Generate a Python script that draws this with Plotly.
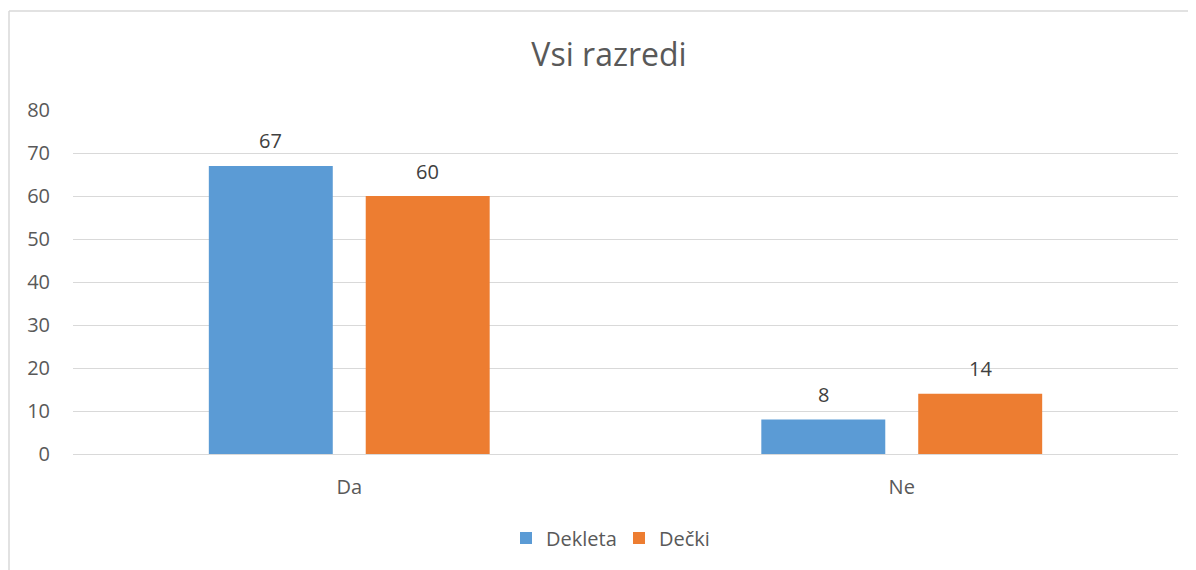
import plotly.graph_objects as go

categories = ["Da", "Ne"]
series_names = ["Dekleta", "Dečki"]
dekleta = [67, 8]
decki = [60, 14]
colors = ["#5B9BD5", "#ED7D31"]
title_text = "Vsi razredi"

# page body has an 8px margin; compensate so the chart lands where the reference has it
OFF = 8
W, H = 1196 - OFF, 570 - OFF
L, R, T, B = 73 - OFF, 18, 110 - OFF, 116
pw, ph = W - L - R, H - T - B

FONT = "Open Sans"
TXT = "#595959"

bargap = 0.432
bargroupgap = 0.21

fig = go.Figure()
for name, vals, col in zip(series_names, [dekleta, decki], colors):
    fig.add_trace(go.Bar(
        x=categories, y=vals, name=name, marker_color=col,
        marker_line_width=0,
    ))

# data labels as annotations above bars
cat_w = pw / len(categories)
slot = cat_w * (1 - bargap) / 2
for i, vals in enumerate([dekleta, decki]):
    off = (i - 0.5) * slot
    for c, v in zip(categories, vals):
        fig.add_annotation(x=c, y=v, text=str(v), showarrow=False,
                           xshift=off, yshift=25,
                           font=dict(family=FONT, size=20, color="#404040"))

# chart border (top and left visible)
bx = (9 - OFF - L) / pw
by = 1 + (T - (11 - OFF)) / ph
line = dict(color="#d9d9d9", width=1.5)
fig.add_shape(type="line", xref="paper", yref="paper", x0=bx, x1=1.2, y0=by, y1=by, line=line)
fig.add_shape(type="line", xref="paper", yref="paper", x0=bx, x1=bx, y0=-1, y1=by, line=line)

fig.update_layout(
    width=W, height=H,
    margin=dict(l=L, r=R, t=T, b=B, pad=0),
    paper_bgcolor="white", plot_bgcolor="white",
    barmode="group", bargap=bargap, bargroupgap=bargroupgap,
    title=dict(text=title_text, x=(609 - OFF - L) / pw, xref="paper", xanchor="center",
               y=1 - (55 - OFF) / H, yanchor="middle",
               font=dict(family=FONT, size=32, color=TXT)),
    font=dict(family=FONT, size=20, color=TXT),
    showlegend=True,
    legend=dict(orientation="h", x=(520 - 14 - OFF - L) / pw, xanchor="left",
                y=-(538 - 454) / ph, yanchor="middle",
                font=dict(family=FONT, size=20, color=TXT),
                itemwidth=30, entrywidth=68, entrywidthmode="pixels",
                traceorder="normal"),
    yaxis=dict(range=[0, 80], dtick=10, showgrid=True, gridcolor="#d9d9d9", gridwidth=1,
               zeroline=True, zerolinecolor="#d9d9d9", zerolinewidth=1,
               showline=False, ticks="", ticklabelstandoff=22,
               tickfont=dict(family=FONT, size=20, color=TXT), fixedrange=True),
    xaxis=dict(showline=False, ticks="", ticklabelstandoff=19,
               tickfont=dict(family=FONT, size=20, color=TXT), fixedrange=True),
)

fig.write_html("out.html")
